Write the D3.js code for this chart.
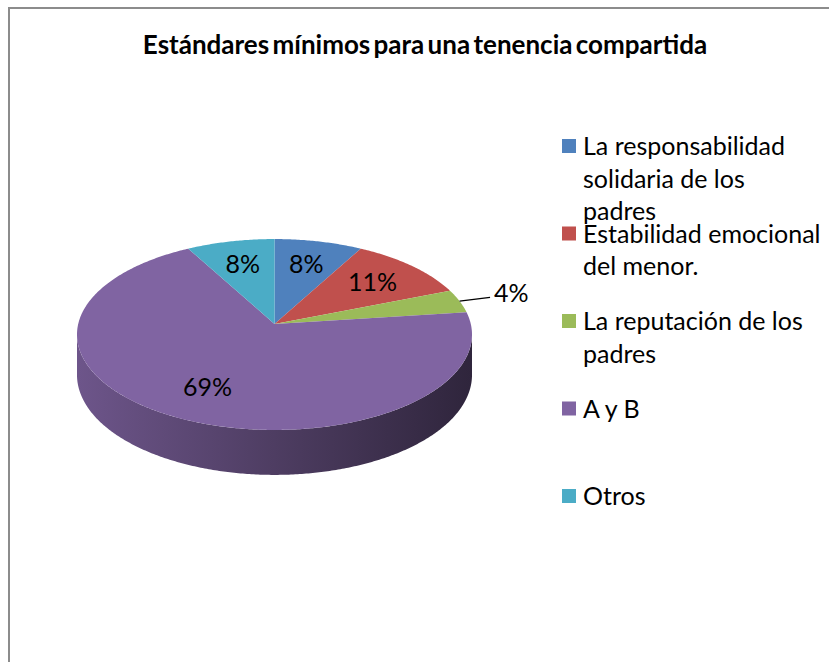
<!DOCTYPE html>
<html>
<head>
<meta charset="utf-8">
<script src="https://cdn.jsdelivr.net/npm/d3@7"></script>
<style>
  body { margin: 0; background: #fff; }
  svg { display: block; font-family: Lato, "Open Sans", sans-serif; }
</style>
</head>
<body>
<svg id="chart" width="829" height="662"></svg>
<script>
const title = 'Estándares mínimos para una tenencia compartida';
const categories = ['La responsabilidad solidaria de los padres', 'Estabilidad emocional del menor.', 'La reputación de los padres', 'A y B', 'Otros'];
const legendLines = [
    ['La responsabilidad', 'solidaria de los', 'padres'],
    ['Estabilidad emocional', 'del menor.'],
    ['La reputación de los', 'padres'],
    ['A y B'],
    ['Otros']
];
const values = [8, 11, 4, 69, 8];
const colors = ['#4F81BD', '#C0504D', '#9BBB59', '#8064A2', '#4BACC6'];

const svg = d3.select('#chart');
const W = 829, H = 662;

// marco
svg.append('path')
    .attr('d', `M9,${H}V8H${W}`)
    .attr('fill', 'none')
    .attr('stroke', '#8c8c8c')
    .attr('stroke-width', 2);

svg.append('text')
    .attr('x', 425)
    .attr('y', 54)
    .attr('text-anchor', 'middle')
    .attr('font-weight', 'bold')
    .attr('font-size', 26)
    .attr('word-spacing', -3)
    .text(title);

// pastel 3D con perspectiva
const cx = 274.5, cy = 324, A = 196.3, B = 94.3, k = 0.11, depth = 40;

function proj(r, a, dz = 0) {
    const u = r * Math.sin(a), v = -r * Math.cos(a);
    const s = 1 / (1 - k * v);
    return [cx + A * u * s, cy + B * v * s + dz * s];
}

function arcPoints(r, a0, a1, dz = 0) {
    const n = Math.max(2, Math.ceil((a1 - a0) / 0.01));
    return d3.range(n + 1).map(i => proj(r, a0 + (a1 - a0) * i / n, dz));
}

const pie = d3.pie().sort(null).value(d => d)(values);
const frontLo = Math.acos(-k), frontHi = 2 * Math.PI - Math.acos(-k);
const line = d3.line();

const defs = svg.append('defs');
pie.forEach((d, i) => {
    const c = d3.color(colors[i]);
    const grad = defs.append('linearGradient')
        .attr('id', 'side' + i)
        .attr('gradientUnits', 'userSpaceOnUse')
        .attr('x1', cx - A).attr('x2', cx + A).attr('y1', 0).attr('y2', 0);
    grad.append('stop').attr('offset', 0).attr('stop-color', c.darker(0.45));
    grad.append('stop').attr('offset', 0.5).attr('stop-color', c.darker(1.4));
    grad.append('stop').attr('offset', 1).attr('stop-color', c.darker(2.8));
});

const g = svg.append('g');

// pared lateral
pie.forEach((d, i) => {
    const lo = Math.max(d.startAngle, frontLo), hi = Math.min(d.endAngle, frontHi);
    if (lo >= hi) return;
    const pts = arcPoints(1, lo, hi).concat(arcPoints(1, lo, hi, depth).reverse());
    g.append('path')
        .attr('d', line(pts) + 'Z')
        .attr('fill', `url(#side${i})`);
});

// cara superior
pie.forEach((d, i) => {
    const pts = [[cx, cy]].concat(arcPoints(1, d.startAngle, d.endAngle));
    g.append('path')
        .attr('d', line(pts) + 'Z')
        .attr('fill', colors[i]);
});

// etiquetas
pie.forEach((d, i) => {
    const mid = (d.startAngle + d.endAngle) / 2;
    const txt = values[i] + '%';
    if (values[i] < 5) {
        const p0 = proj(1, mid), p1 = proj(1.17, mid);
        g.append('path')
            .attr('d', line([p0, p1]))
            .attr('stroke', '#000')
            .attr('stroke-width', 1.2)
            .attr('fill', 'none');
        g.append('text')
            .attr('x', p1[0] + 4)
            .attr('y', p1[1] - 4)
            .attr('dy', '0.35em')
            .attr('font-size', 25)
            .text(txt);
    } else {
        const p = proj(0.7, mid);
        g.append('text')
            .attr('x', p[0])
            .attr('y', p[1])
            .attr('dy', '0.35em')
            .attr('text-anchor', 'middle')
            .attr('font-size', 25)
            .text(txt);
    }
});

// leyenda
const legend = svg.append('g').attr('transform', 'translate(562,155)');
const entry = legend.selectAll('g')
    .data(categories)
    .enter()
    .append('g')
    .attr('transform', (d, i) => `translate(0,${i * 87.5})`);

entry.append('rect')
    .attr('x', 0)
    .attr('y', -16)
    .attr('width', 14)
    .attr('height', 14)
    .attr('fill', (d, i) => colors[i]);

entry.append('text')
    .attr('x', 21)
    .attr('font-size', 25)
    .selectAll('tspan')
    .data((d, i) => legendLines[i])
    .enter()
    .append('tspan')
    .attr('x', 21)
    .attr('y', (d, j) => j * 32.5)
    .text(d => d);
</script>
</body>
</html>
